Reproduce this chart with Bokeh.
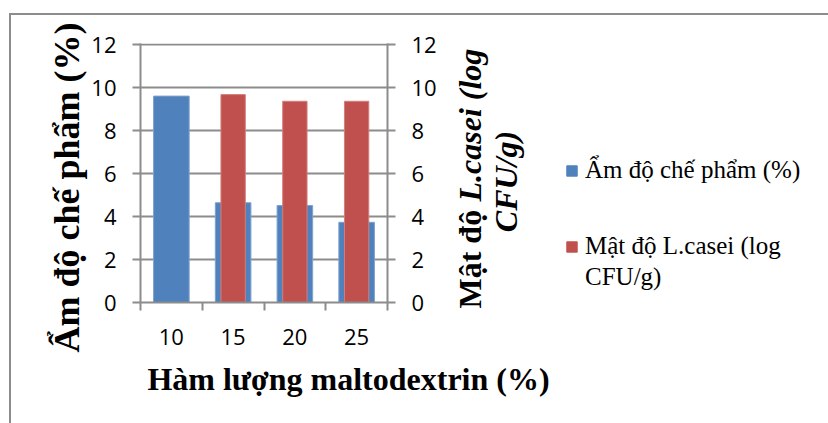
import math
from bokeh.plotting import figure
from bokeh.layouts import row, column
from bokeh.models import (Range1d, LinearAxis, FixedTicker, Label, Legend, LegendItem,
                          Title, ColumnDataSource)
from bokeh.embed import file_html
from bokeh.resources import INLINE

# ---- data ----
maltodextrin = [10, 15, 20, 25]
minor_edges = [7.5, 12.5, 17.5, 22.5, 27.5]
moisture = [9.6, 4.64, 4.51, 3.73]                 # Ẩm độ chế phẩm (%)
density = [float("nan"), 9.67, 9.36, 9.36]         # Mật độ L.casei (log CFU/g)
y_ticks = [0, 2, 4, 6, 8, 10, 12]

BLUE = "#4F81BD"
RED = "#C0504D"
GRID = "#8C8C8C"
SERIF = "Liberation Serif"
TICK_FONT = "Open Sans"

# window geometry
OX, OY = 11, 15          # where the chart canvases start (after margin + css border)
SPLIT_X = 445            # window x where right-hand canvas starts
SPLIT_Y = 360            # window y where the bottom strip starts
W, H = 828, 423
FL_W, FT_W, FR_W, FB_W = 140, 43, 387, 302   # plot frame in window px

A_W, A_H = SPLIT_X - OX, SPLIT_Y - OY
B_W, B_H = W - SPLIT_X, SPLIT_Y - OY
C_W, C_H = W - OX, H - SPLIT_Y

src_b = ColumnDataSource(dict(x=maltodextrin, top=moisture))
src_r = ColumnDataSource(dict(x=maltodextrin, top=density))

pA = figure(width=A_W, height=A_H, frame_width=FR_W - FL_W, frame_height=FB_W - FT_W,
            min_border_left=FL_W - OX, min_border_top=FT_W - OY,
            min_border_right=A_W - (FR_W - OX), min_border_bottom=A_H - (FB_W - OY),
            x_range=Range1d(7.5, 27.5), y_range=Range1d(0, 12.047),
            output_backend="svg", toolbar_location=None, tools="", title=None)
pA.extra_y_ranges = {"right": Range1d(0, 12.047)}
pA.outline_line_color = None
pA.background_fill_color = "white"
pA.border_fill_color = "white"

pA.vbar(x="x", top="top", width=2.88, bottom=0, source=src_b,
        fill_color=BLUE, line_color="#7EA2CF", line_width=1)
pA.vbar(x="x", top="top", width=1.97, bottom=0, source=src_r, y_range_name="right",
        fill_color=RED, line_color="#D27F7D", line_width=1)

pA.xgrid.visible = False
pA.ygrid.ticker = FixedTicker(ticks=y_ticks)
pA.ygrid.grid_line_color = GRID
pA.ygrid.grid_line_width = 2


def style_axis(ax):
    ax.axis_line_color = GRID
    ax.axis_line_width = 2
    ax.major_tick_line_color = GRID
    ax.major_tick_line_width = 2
    ax.minor_tick_line_color = GRID
    ax.minor_tick_line_width = 2
    ax.major_label_text_font = TICK_FONT
    ax.major_label_text_font_size = "22px"
    ax.major_label_text_color = "black"


xa = pA.xaxis[0]
xa.ticker = FixedTicker(ticks=maltodextrin, minor_ticks=minor_edges)
style_axis(xa)
xa.major_tick_in = 0
xa.major_tick_out = 0
xa.minor_tick_in = 0
xa.minor_tick_out = 8
xa.major_label_standoff = 18

ya = pA.yaxis[0]
ya.ticker = FixedTicker(ticks=y_ticks)
style_axis(ya)
ya.major_tick_in = 0
ya.major_tick_out = 8
ya.minor_tick_out = 0
ya.minor_tick_in = 0
ya.major_label_standoff = 16

yr = LinearAxis(y_range_name="right", ticker=FixedTicker(ticks=y_ticks))
style_axis(yr)
yr.major_tick_in = 0
yr.major_tick_out = 8
yr.minor_tick_out = 0
yr.minor_tick_in = 0
yr.major_label_standoff = 16
pA.add_layout(yr, "right")

# left axis title: starts (bottom end) at window y 352
pA.add_layout(Title(text="Ẩm độ chế phẩm (%)", align="left", offset=FB_W - 352,
                    standoff=4, text_font=SERIF, text_font_size="36px",
                    text_font_style="bold", text_color="black"), "left")


def blank(width, height):
    f = figure(width=width, height=height, min_border=0,
               x_range=Range1d(0, 1), y_range=Range1d(0, 1),
               x_axis_location=None, y_axis_location=None,
               output_backend="svg", toolbar_location=None, tools="", title=None)
    f.outline_line_color = None
    f.xgrid.visible = False
    f.ygrid.visible = False
    f.background_fill_color = "white"
    f.border_fill_color = "white"
    return f


# ---- right-hand canvas: secondary axis title and legend ----
pB = blank(B_W, B_H)


def bx(X):
    return X - SPLIT_X


def by(Y):
    return SPLIT_Y - Y


R1 = dict(x_units="screen", y_units="screen", angle=math.pi / 2,
          text_baseline="middle", text_font=SERIF, text_font_size="32px",
          text_color="black")
pB.add_layout(Label(x=bx(469), y=by(308), text="Mật độ", text_align="left",
                    text_font_style="bold", **R1))
pB.add_layout(Label(x=bx(469), y=by(308) + 107, text="L.casei (log", text_align="left",
                    text_font_style="bold italic", **R1))
pB.add_layout(Label(x=bx(505), y=by(181), text="CFU/g)", text_align="center",
                    text_font_style="bold italic", **R1))

# legend keys (proxies drawing the same data far outside this canvas's view)
kb = pB.vbar(x="x", top="top", width=1, source=src_b, fill_color=BLUE, line_color=BLUE)
kr = pB.vbar(x="x", top="top", width=1, source=src_r, fill_color=RED, line_color=RED)
kn = pB.vbar(x="x", top="top", width=1, source=src_r, fill_alpha=0, line_alpha=0)


def make_legend(items, loc, spacing):
    return Legend(items=items, location=loc, padding=0, margin=0, spacing=spacing,
                  glyph_width=13, glyph_height=13, label_standoff=7, label_height=25,
                  label_text_font=SERIF, label_text_font_size="25px",
                  label_text_color="black",
                  border_line_color=None, background_fill_alpha=0)


pB.add_layout(make_legend([LegendItem(label="Ẩm độ chế phẩm (%)", renderers=[kb])],
                          (bx(565), by(184)), 0))
pB.add_layout(make_legend([LegendItem(label="Mật độ L.casei (log", renderers=[kr]),
                           LegendItem(label="CFU/g)", renderers=[kn])],
                          (bx(565), by(291)), 3))

# ---- bottom strip: x-axis title ----
pC = blank(C_W, C_H)
pC.add_layout(Label(x=348 - OX, y=H - 378, x_units="screen", y_units="screen",
                    text="Hàm lượng maltodextrin (%)", text_align="center",
                    text_baseline="alphabetic", text_font=SERIF, text_font_size="32px",
                    text_font_style="bold", text_color="black"))

layout = column(row(pA, column(pB, spacing=0), spacing=0), pC, spacing=0,
                margin=(OY - 2, 0, 0, OX - 2),
                styles={"border-top": "2px solid #8C8C8C",
                        "border-left": "2px solid #8C8C8C"})

open("out.html", "w").write(file_html(layout, INLINE))
